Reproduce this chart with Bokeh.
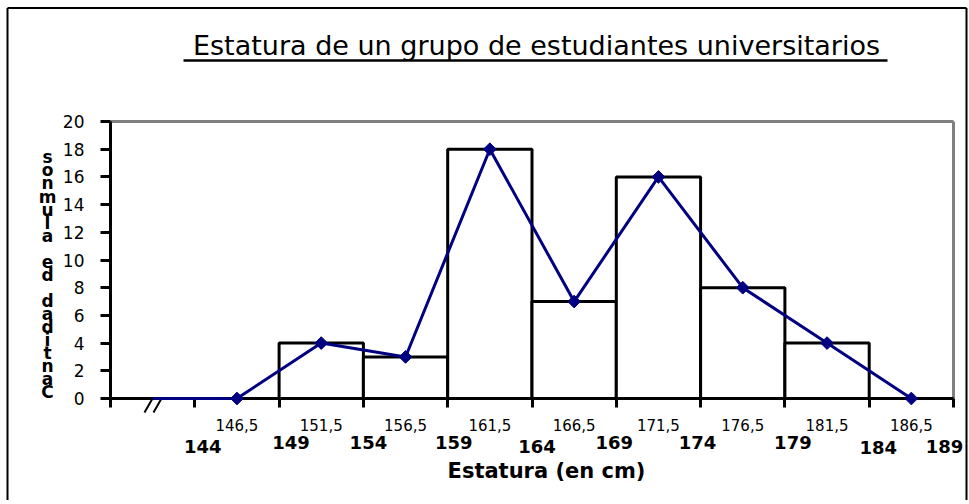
import math
from bokeh.plotting import figure
from bokeh.models import Range1d, FixedTicker
from bokeh.core.properties import value
from bokeh.embed import file_html
from bokeh.resources import INLINE

# ---------------- data ----------------
titulo = "Estatura de un grupo de estudiantes universitarios"
titulo_x = "Estatura (en cm)"
titulo_y = "Cantidad de alumnos"
marcas = ["146,5", "151,5", "156,5", "161,5", "166,5", "171,5", "176,5", "181,5", "186,5"]
frecuencias = [0, 4, 3, 18, 7, 16, 8, 4, 0]
limites = ["144", "149", "154", "159", "164", "169", "174", "179", "184", "189"]
y_ticks = [0, 2, 4, 6, 8, 10, 12, 14, 16, 18, 20]

# ---------------- layout (page pixels) ----------------
W, H = 968, 500
FL, FR, FT, FB = 110, 953, 121, 398          # plot area on the page
N_CAT = len(marcas) + 1                      # first slot = axis break
Y_MAX = y_ticks[-1]
FONT = "DejaVu Sans"
NAVY = "#000080"
PXX = (FR - FL) / N_CAT
PXY = (FB - FT) / Y_MAX
BASE_SHIFT = 0.36                            # text glyph baseline correction (em)


def X(px):           # page x -> data x
    return (px - FL) / PXX


def Y(py):           # page y -> data y
    return (FB - py) / PXY


def YB(py, fs):      # wanted baseline (page y) for a text of size fs px
    return Y(py - BASE_SHIFT * fs)


centros = [i + 1.5 for i in range(len(marcas))]

p = figure(width=W, height=H, output_backend="svg", toolbar_location=None,
           x_range=Range1d(X(0), X(W)), y_range=Range1d(Y(H), Y(0)),
           min_border=0, min_border_left=0, min_border_right=0,
           min_border_top=0, min_border_bottom=0)
p.outline_line_color = None
p.grid.visible = False
p.background_fill_color = "white"
p.border_fill_color = "white"

# histogram bars
p.vbar(x=centros, width=1, top=frecuencias, bottom=0,
       fill_color="white", line_color="black", line_width=3)

# gray top / right edges of the plot area
p.segment(x0=[0, N_CAT], y0=[Y_MAX, 0], x1=[N_CAT, N_CAT], y1=[Y_MAX, Y_MAX],
          line_color="#808080", line_width=3)

# frequency polygon (drawn above the axis line)
p.line([0.5] + centros, [0] + frecuencias, line_color=NAVY, line_width=3, level="overlay")
p.scatter(centros, frecuencias, marker="square", angle=math.pi / 4,
          size=9, fill_color=NAVY, line_color=NAVY, level="overlay")

# axes, fixed at the data origin
xa = p.xaxis[0]
xa.fixed_location = 0
xa.bounds = (0, N_CAT)
xa.ticker = FixedTicker(ticks=[i + 0.5 for i in range(N_CAT)],
                        minor_ticks=list(range(N_CAT + 1)))
ov = {0.5: ""}
for c, m in zip(centros, marcas):
    ov[c] = m
xa.major_label_overrides = ov
xa.axis_line_width = 3
xa.axis_line_color = "black"
xa.major_tick_out = 0
xa.major_tick_in = 0
xa.minor_tick_out = 9
xa.minor_tick_in = 0
xa.minor_tick_line_width = 3
xa.minor_tick_line_color = "black"
xa.major_label_text_font = FONT
xa.major_label_text_font_size = "15px"
xa.major_label_text_color = "black"
xa.major_label_standoff = 11

ya = p.yaxis[0]
ya.fixed_location = 0
ya.bounds = (0, Y_MAX)
ya.ticker = FixedTicker(ticks=y_ticks, minor_ticks=[])
ya.axis_line_width = 3
ya.axis_line_color = "black"
ya.major_tick_out = 10
ya.major_tick_in = 0
ya.major_tick_line_width = 3
ya.major_tick_line_color = "black"
ya.major_label_text_font = FONT
ya.major_label_text_font_size = "17px"
ya.major_label_text_color = "black"
ya.major_label_standoff = 16

# title + underline
FS_T = 27
p.text(x=[X(536)], y=[YB(55, FS_T)], text=[titulo], text_align="center",
       text_baseline="alphabetic", text_font=value(FONT),
       text_font_size=f"{FS_T}px", text_color="black")
p.segment(x0=[X(183)], y0=[Y(60)], x1=[X(887)], y1=[Y(60)],
          line_color="black", line_width=2.5)

# x-axis title
FS_X = 21
p.text(x=[X(546)], y=[YB(478, FS_X)], text=[titulo_x], text_align="center",
       text_baseline="alphabetic", text_font=value(FONT), text_font_style="bold",
       text_font_size=f"{FS_X}px", text_color="black")

# class limits (bold), placed at the class boundaries
FS_L = 18
nudge_px = [8, 12, 5, 6, 5, -2, -3, 8, 9, -9]
base_px = [452, 448, 448, 448, 452, 448, 448, 448, 453, 452]
p.text(x=[j + 1 + nudge_px[j] / PXX for j in range(len(limites))],
       y=[YB(b, FS_L) for b in base_px], text=limites, text_align="center",
       text_baseline="alphabetic", text_font=value(FONT), text_font_style="bold",
       text_font_size=f"{FS_L}px", text_color="black")

# stacked y-axis title (upright letters, read bottom to top)
FS_Y = 17
chars = list(reversed(titulo_y))
step = (398 - 163) / (len(chars) - 1)
p.text(x=[X(47)] * len(chars), y=[YB(163 + k * step, FS_Y) for k in range(len(chars))],
       text=chars, text_align="center", text_baseline="alphabetic",
       text_font=value(FONT), text_font_style="bold", text_font_size=f"{FS_Y}px",
       text_color="black")

# axis break marks "//"
p.segment(x0=[X(144), X(153)], y0=[Y(412), Y(412)], x1=[X(152), X(161)], y1=[Y(398), Y(398)],
          line_color="black", line_width=2)

# outer chart border (bottom edge lies below the window)
p.segment(x0=[X(7), X(7), X(966)], y0=[Y(7.5), Y(7.5), Y(7.5)],
          x1=[X(966), X(7), X(966)], y1=[Y(7.5), Y(H + 20), Y(H + 20)],
          line_color="black", line_width=2)

open("out.html", "w").write(file_html(p, INLINE))
